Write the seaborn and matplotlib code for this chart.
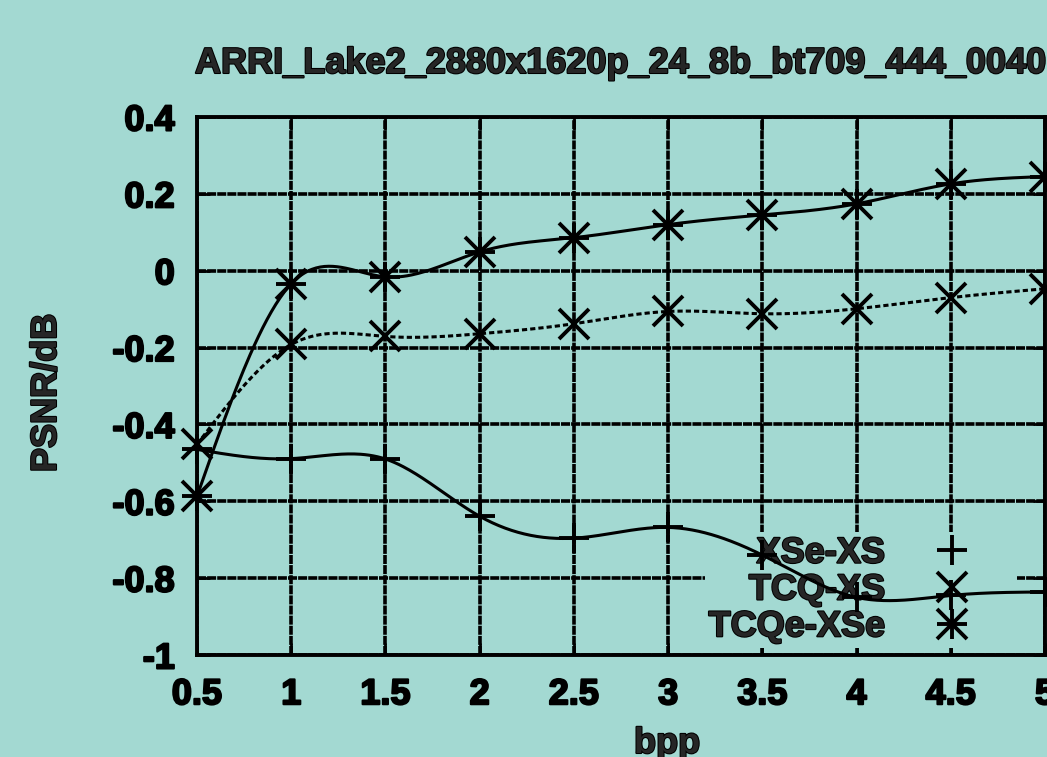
import numpy as np
import pandas as pd
import matplotlib
matplotlib.use("Agg")
import matplotlib.pyplot as plt
import matplotlib.patheffects as pe
from matplotlib.lines import Line2D
from matplotlib.legend_handler import HandlerTuple
import seaborn as sns

# ---------------- data ----------------
bpp = [0.5, 1.0, 1.5, 2.0, 2.5, 3.0, 3.5, 4.0, 4.5, 5.0]
xse_xs = [-0.465, -0.489, -0.490, -0.639, -0.696, -0.668, -0.740, -0.850, -0.845, -0.836]
tcq_xs = [-0.452, -0.192, -0.171, -0.164, -0.138, -0.106, -0.112, -0.099, -0.070, -0.047]
tcqe_xse = [-0.587, -0.034, -0.016, 0.049, 0.086, 0.120, 0.145, 0.174, 0.226, 0.245]
series_names = ["XSe-XS", "TCQ-XS", "TCQe-XSe"]
title_text = "ARRI_Lake2_2880x1620p_24_8b_bt709_444_0040"
x_label = "bpp"
y_label = "PSNR/dB"
x_ticks = [0.5, 1.0, 1.5, 2.0, 2.5, 3.0, 3.5, 4.0, 4.5, 5.0]
x_tick_labels = ["0.5", "1", "1.5", "2", "2.5", "3", "3.5", "4", "4.5", "5"]
y_ticks = [-1.0, -0.8, -0.6, -0.4, -0.2, 0.0, 0.2, 0.4]
y_tick_labels = ["-1", "-0.8", "-0.6", "-0.4", "-0.2", "0", "0.2", "0.4"]

BG = "#a3d9d2"


def natural_cspline(x, y, xs):
    """gnuplot-style 'smooth csplines' (natural cubic spline) for drawing."""
    x = np.asarray(x, float)
    y = np.asarray(y, float)
    n = len(x)
    h = np.diff(x)
    A = np.zeros((n, n))
    r = np.zeros(n)
    A[0, 0] = 1.0
    A[-1, -1] = 1.0
    for i in range(1, n - 1):
        A[i, i - 1] = h[i - 1]
        A[i, i] = 2 * (h[i - 1] + h[i])
        A[i, i + 1] = h[i]
        r[i] = 6 * ((y[i + 1] - y[i]) / h[i] - (y[i] - y[i - 1]) / h[i - 1])
    M = np.linalg.solve(A, r)
    idx = np.clip(np.searchsorted(x, xs) - 1, 0, n - 2)
    x0, x1 = x[idx], x[idx + 1]
    hh = x1 - x0
    return (M[idx] * (x1 - xs) ** 3 / (6 * hh) + M[idx + 1] * (xs - x0) ** 3 / (6 * hh)
            + (y[idx] / hh - M[idx] * hh / 6) * (x1 - xs)
            + (y[idx + 1] / hh - M[idx + 1] * hh / 6) * (xs - x0))


sns.set_theme(style="ticks")
plt.rcParams["font.family"] = ["Liberation Sans", "DejaVu Sans"]
plt.rcParams["font.weight"] = "bold"
plt.rcParams["axes.labelweight"] = "bold"
plt.rcParams["axes.titleweight"] = "bold"

FS = 26
stroke = [pe.withStroke(linewidth=1.5, foreground="black")]

fig = plt.figure(figsize=(10.47, 7.57), dpi=100, facecolor=BG)
ax = fig.add_axes([197 / 1047, 1 - 655 / 757, (1045 - 197) / 1047, (655 - 117) / 757])
ax.set_facecolor(BG)

xs = np.linspace(bpp[0], bpp[-1], 400)
styles = {
    "XSe-XS": dict(vals=xse_xs, ls="-", marker=["+"]),
    "TCQ-XS": dict(vals=tcq_xs, ls=(0, (1.7, 1.0)), marker=["x"]),
    "TCQe-XSe": dict(vals=tcqe_xse, ls="-", marker=["+", "x"]),
}

MS = 21
MEW = 2.8
for name in series_names:
    st = styles[name]
    smooth = pd.DataFrame({"bpp": xs, "val": natural_cspline(bpp, st["vals"], xs)})
    sns.lineplot(data=smooth, x="bpp", y="val", ax=ax, color="black", lw=2.2,
                 linestyle=st["ls"], estimator=None, sort=False, zorder=3, legend=False)
    for m in st["marker"]:
        ax.plot(bpp, st["vals"], ls="none", marker=m, ms=MS, mew=MEW, color="black",
                zorder=3.5, clip_on=False)

ax.set_xlim(0.5, 5.0)
ax.set_ylim(-1.0, 0.4)
ax.set_xticks(x_ticks)
ax.set_xticklabels(x_tick_labels)
ax.set_yticks(y_ticks)
ax.set_yticklabels(y_tick_labels)
ax.tick_params(direction="in", length=9, width=2, top=True, right=True, pad=16,
               labelsize=FS, colors="black")
for t in ax.get_xticklabels() + ax.get_yticklabels():
    t.set_fontweight("bold")
    t.set_path_effects(stroke)

ax.set_axisbelow(True)
ax.grid(True, color="black", lw=2.6, ls=(0, (2.5, 0.3)))
for sp in ax.spines.values():
    sp.set_linewidth(2.8)
    sp.set_color("black")
    sp.set_visible(True)

ax.set_xlabel(x_label, fontsize=FS, fontweight="bold", path_effects=stroke)
ax.xaxis.set_label_coords((667 - 197) / 848, (655 - 726) / 538)
ax.set_ylabel(y_label, fontsize=FS, fontweight="bold", path_effects=stroke)
ax.yaxis.set_label_coords((64 - 197) / 848, (655 - 393) / 538)
ax.set_title(title_text, fontsize=FS, fontweight="bold", y=(655 - 73) / 538, pad=0,
             path_effects=stroke)

# legend: text right-aligned, marker to the right, opaque key box without border
def mk(m):
    return Line2D([], [], ls="none", marker=m, ms=MS, mew=MEW, color="black")

handles = [mk("+"), mk("x"), (mk("+"), mk("x"))]
leg = ax.legend(handles, series_names, loc="center right",
                bbox_to_anchor=(1017 / 1047, 1 - 590 / 757), bbox_transform=fig.transFigure,
                markerfirst=False, frameon=True, facecolor=BG, edgecolor="none", framealpha=1,
                fancybox=False, borderpad=0.1, handlelength=3.4, handletextpad=0.15,
                labelspacing=0.05, borderaxespad=0,
                prop={"weight": "bold", "size": FS},
                handler_map={tuple: HandlerTuple(ndivide=1, pad=0)})
for t in leg.get_texts():
    t.set_path_effects(stroke)
leg.set_zorder(2.5)

fig.savefig("out.png", dpi=100, facecolor=BG)
